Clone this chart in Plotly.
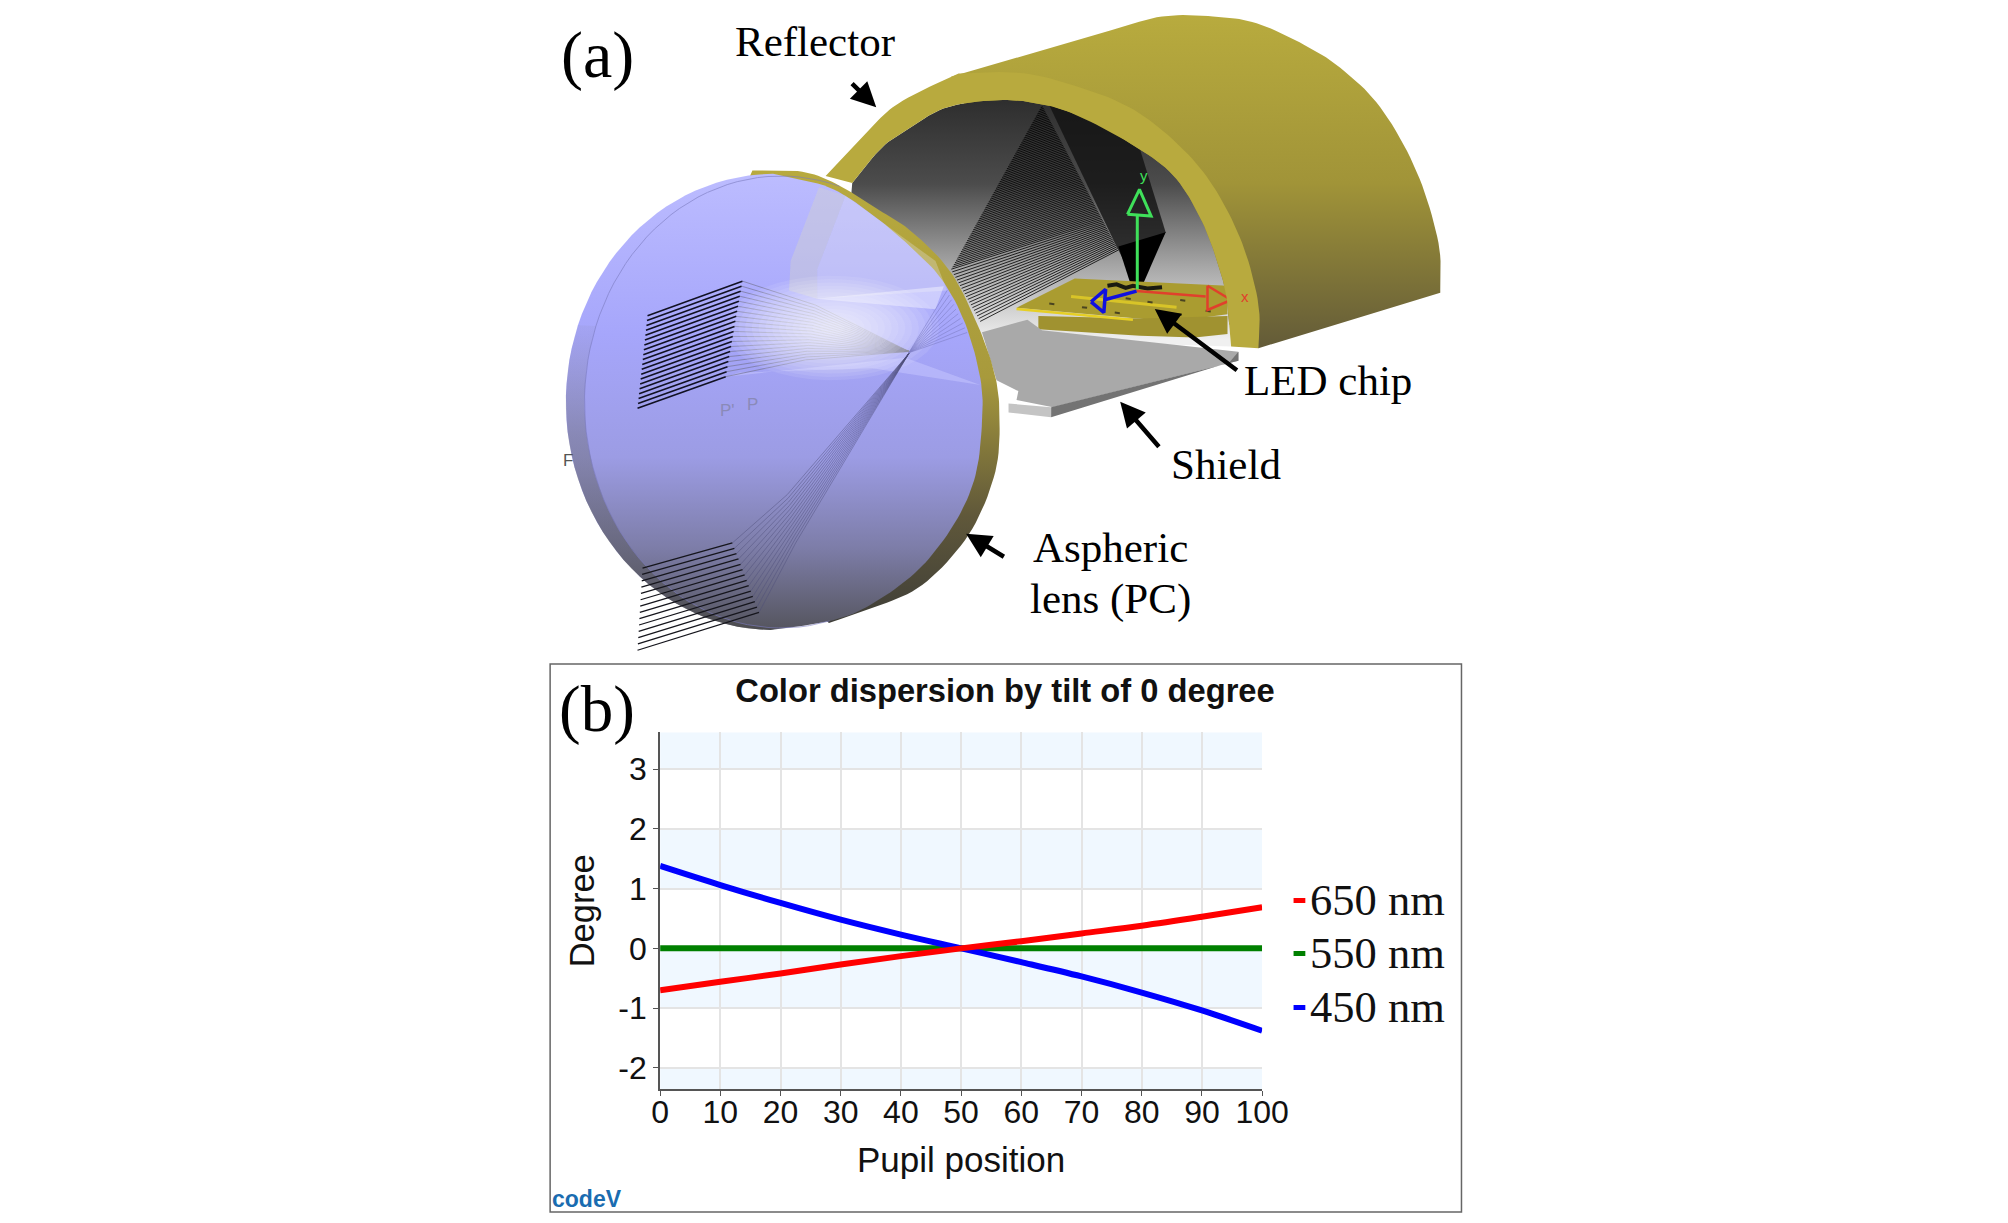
import numpy as np
import plotly.graph_objects as go

# chart (b) values
pupil = [0, 10, 20, 30, 40, 50, 60, 70, 80, 90, 100]
deg_650 = [-0.70, -0.56, -0.42, -0.27, -0.13, 0, 0.12, 0.25, 0.38, 0.53, 0.69]
deg_550 = [0, 0, 0, 0, 0, 0, 0, 0, 0, 0, 0]
deg_450 = [1.38, 1.06, 0.76, 0.48, 0.23, 0, -0.23, -0.47, -0.74, -1.04, -1.38]
series_names = ["650 nm", "550 nm", "450 nm"]
series_colors = ["#ff0000", "#008000", "#0000ff"]
x_ticks = [0, 10, 20, 30, 40, 50, 60, 70, 80, 90, 100]
y_ticks = [-2, -1, 0, 1, 2, 3]
y_labels = ["-2", "-1", "0", "1", "2", "3"]
y_min, y_max = -2.36, 3.62
bands = [(-2.36, -2), (-1, 0), (1, 2), (3, 3.62)]

W, H = 2008, 1223
SERIF = "Liberation Serif"
SANS = "Liberation Sans"


def z5(pts):
    return [(540 + x / 2.95, y / 2.376) for x, y in pts]


def z6(pts):
    return [(900 + x / 2.70, y / 2.8) for x, y in pts]


fig = go.Figure()


def poly(pts, color=None, grad=None, opacity=1.0):
    xs = [p[0] for p in pts] + [pts[0][0]]
    ys = [p[1] for p in pts] + [pts[0][1]]
    kw = {}
    if grad:
        start, stop, scale = grad
        kw["fillgradient"] = dict(type="vertical", colorscale=scale, start=start, stop=stop)
    else:
        kw["fillcolor"] = color
    fig.add_trace(go.Scatter(x=xs, y=ys, xaxis="x2", yaxis="y2", mode="lines", fill="toself",
                             line=dict(width=0), opacity=opacity, hoverinfo="skip",
                             showlegend=False, **kw))


def line(pts, color="#000000", width=1.0, opacity=1.0, shape="linear"):
    fig.add_trace(go.Scatter(x=[p[0] for p in pts], y=[p[1] for p in pts], xaxis="x2", yaxis="y2",
                             mode="lines", line=dict(color=color, width=width, shape=shape),
                             opacity=opacity, hoverinfo="skip", showlegend=False))


def lerp(a, b, t):
    return (a[0] + (b[0] - a[0]) * t, a[1] + (b[1] - a[1]) * t)


def ellipse(cx, cy, a, b, n=120):
    t = np.linspace(0, 2 * np.pi, n)
    return list(zip(cx + a * np.cos(t), cy + b * np.sin(t)))


def smooth(pts, n=10):
    # catmull-rom through the outline points, so the arcs do not look cut
    p = [pts[0]] + list(pts) + [pts[-1]]
    out = []
    for i in range(1, len(p) - 2):
        for t in np.linspace(0, 1, n, endpoint=False):
            xy = []
            for k in range(2):
                a, b, c, d = p[i - 1][k], p[i][k], p[i + 1][k], p[i + 2][k]
                xy.append(0.5 * (2 * b + (c - a) * t + (2 * a - 5 * b + 4 * c - d) * t ** 2
                                 + (3 * b - a - 3 * c + d) * t ** 3))
            out.append(tuple(xy))
    out.append(pts[-1])
    return out


# chart traces
fig.add_trace(go.Scatter(x=pupil, y=deg_550, mode="lines", name=series_names[1], cliponaxis=False,
                         line=dict(color=series_colors[1], width=6), showlegend=False))
fig.add_trace(go.Scatter(x=pupil, y=deg_450, mode="lines", name=series_names[2], cliponaxis=False,
                         line=dict(color=series_colors[2], width=6, shape="spline"), showlegend=False))
fig.add_trace(go.Scatter(x=pupil, y=deg_650, mode="lines", name=series_names[0], cliponaxis=False,
                         line=dict(color=series_colors[0], width=6, shape="spline"), showlegend=False))

# reflector body
body_arc = z6([(1505, 820), (1500, 680), (1440, 480), (1340, 300), (1230, 190), (1130, 125),
               (1000, 65), (880, 46), (740, 46), (600, 85)])
body = z6([(1005, 975)]) + smooth(body_arc) + z6([(160, 215), (200, 300)])
poly(body, grad=(15, 350, [[0, "#b8ab3e"], [0.5, "#a19438"], [1, "#625a38"]]))

# reflector inside
inner_arc = smooth(z6([(930, 970), (920, 850), (900, 760), (850, 620), (770, 490), (650, 400), (500, 320),
                       (400, 290), (290, 280), (150, 300)]) + z5([(1120, 300), (1030, 350), (940, 435)]))
inside = inner_arc + z5([(900, 800)]) + z6([(300, 950)])
poly(inside, grad=(100, 340, [[0, "#2e2e2e"], [0.35, "#4c4c4c"], [0.7, "#a8a8a8"], [1, "#f0f0f0"]]))

# ray fan on the reflector, left
A, B, C, D = (410, 295), (160, 755), (240, 900), (620, 700)
for i in range(95):
    t = i / 94
    p = lerp(A, B, t / 0.8) if t < 0.8 else lerp(B, C, (t - 0.8) / 0.2)
    q = lerp(A, D, t)
    line(z6([p, q]), width=1, opacity=0.8)

# ray fan on the reflector, right
poly(z6([(430, 295), (560, 340), (680, 420), (750, 650), (670, 800), (610, 680)]), color="#111111", opacity=0.78)
poly(z6([(620, 690), (750, 650), (690, 790), (655, 800)]), color="#000000")

# chip
poly(z6([(240, 900), (500, 780), (330, 860)]), color="#6e6420")
poly(z6([(340, 862), (500, 780), (920, 800), (920, 880), (770, 900), (650, 890)]), color="#aa9c30")
poly(z6([(400, 885), (680, 892), (920, 885), (920, 935), (830, 945), (680, 940), (400, 922)]), color="#a09230")
line(z6([(340, 865), (660, 895)]), color="#e6cf24", width=2.5)
line(z6([(490, 830), (780, 860)]), color="#d8c428", width=3)
line(z6([(590, 800), (615, 796), (640, 806), (660, 800), (700, 808), (740, 804)]), color="#1a1a10", width=4)
for sx, sy in [(430, 850), (520, 860), (610, 875), (700, 845), (790, 840), (860, 870), (780, 880), (640, 835)]:
    line(z6([(sx, sy), (sx + 14, sy + 2)]), color="#4a4420", width=2)

# shield
poly(z6([(245, 930), (370, 895), (410, 925), (950, 985), (950, 1010), (440, 1140), (340, 1120), (345, 1095),
         (285, 1065)]), color="#a9a9a9")
poly(z6([(435, 1140), (950, 1010), (950, 985), (925, 1015), (435, 1168)]), color="#737373")
poly(z6([(318, 1130), (435, 1140), (435, 1168), (318, 1155)]), color="#c4c4c4")

# axes marker on the chip
line(z6([(672, 810), (672, 600)]), color="#3fe05a", width=3)
line(z6([(645, 600), (710, 605), (678, 530), (645, 600)]), color="#3fe05a", width=3)
line(z6([(670, 815), (860, 830)]), color="#e0402c", width=2.5)
line(z6([(865, 800), (930, 840), (865, 868), (865, 800)]), color="#e0402c", width=2.5)
line(z6([(670, 815), (580, 840)]), color="#1010e0", width=3.5)
line(z6([(545, 845), (585, 810), (580, 875), (545, 845)]), color="#1010e0", width=3.5)

# front ring of the reflector
ring_outer = smooth(z5([(860, 418), (1000, 300), (1080, 245), (1230, 185)]) + z6(
    [(200, 205), (360, 205), (500, 240), (650, 300), (780, 400), (880, 520), (960, 680), (1005, 850),
     (1005, 975)]))
poly(ring_outer + inner_arc, color="#b8aa3e")

# lens rim and face, the right side is measured, the left side is a plain ellipse
rim = smooth(z5([(640, 405), (790, 408), (900, 440), (1000, 490), (1110, 545), (1230, 640), (1310, 760),
                 (1365, 880), (1382, 980), (1370, 1120), (1290, 1270), (1150, 1390), (1000, 1445), (870, 1480)]))
poly(rim + [(700, 500), (700, 300)], grad=(170, 630, [[0, "#b8aa3e"], [0.45, "#a89a3c"], [0.75, "#60583a"],
                                                      [1, "#3c3c38"]]))
lens_left = ellipse(778, 402, 211, 228)
face = smooth(z5([(702, 413), (870, 445), (1000, 510), (1120, 590), (1210, 665), (1280, 770), (1325, 900), (1330, 1000),
                  (1310, 1130), (1250, 1240), (1150, 1345), (1030, 1420), (900, 1470), (702, 1497)])) + lens_left[30:90]
poly(face, grad=(175, 630, [[0, "#bcbcff"], [0.35, "#a6a6fb"], [0.62, "#9c9ce4"],
                            [0.82, "#7d7da8"], [1, "#55555e"]]))
# darker crescent on the left side of the face
lens_inner = ellipse(786, 402, 200, 226)
poly(lens_left[30:67] + lens_inner[30:67][::-1], grad=(330, 630, [[0, "rgba(130,130,150,0.1)"],
                                                                  [0.35, "rgba(110,110,120,0.45)"],
                                                                  [1, "rgba(70,70,70,0.6)"]]))
line(lens_inner[25:96], color="#7c7cc0", width=1, opacity=0.6)

# glare on the lens
poly(z5([(840, 445), (920, 465), (835, 640), (835, 710), (750, 690), (755, 620)]), color="#d0d0d0", opacity=0.45)
poly(z5([(920, 465), (1190, 620), (1225, 690), (835, 710), (835, 640)]), color="#e8e8f0", opacity=0.3)
poly(z5([(830, 710), (1215, 680), (1190, 735)]), color="#ffffff", opacity=0.4)
poly(z5([(560, 895), (1100, 850), (1325, 915), (1000, 875), (600, 885)]), color="#c8c8ff", opacity=0.5)

# upper beam, the grey part goes under the glare
beam_left = [lerp((325, 750), (295, 970), i / 19) for i in range(20)]
beam_mid = [lerp((610, 668), (560, 895), i / 19) for i in range(20)]
for i in range(20):
    m = lerp((830, 725), (800, 855), i / 19)
    line(z5([beam_mid[i], m, (1110, 835)]), width=0.9, color="#70708a", opacity=0.7)
for r in range(95, 5, -6):
    poly(ellipse(838, 328, r * 1.15, r * 0.55, 40), color="#ffffff", opacity=0.09)
for a, b in zip(beam_left, beam_mid):
    line(z5([a, b]), width=1.6, color="#111122")

# lower beam
for i in range(14):
    t = i / 13
    a = lerp((310, 1350), (295, 1545), t)
    b = lerp((580, 1290), (660, 1455), t)
    c = lerp((745, 1175), (770, 1290), t)
    line(z5([a, b]), width=1.3, color="#15151c")
    line(z5([b, c, (1110, 840)]), width=0.8, color="#4c4c78", opacity=0.55)
for i in range(10):
    t = i / 9
    line(z5([(1110, 838), lerp((1225, 690), (1285, 790), t)]), width=1, color="#8080c8", opacity=0.6)

# arrows, labels
arrows = [(z5([(935, 195), (1012, 255)])), (z6([(950, 1040), (720, 865)])),
          (z6([(735, 1255), (625, 1125)])), (z5([(1400, 1325), (1282, 1268)]))]
for (x0, y0), (x1, y1) in arrows:
    fig.add_annotation(x=x1, y=y1, ax=x0, ay=y0, xref="x2", yref="y2", axref="x2", ayref="y2", text="",
                       showarrow=True, arrowhead=2, arrowsize=1.1, arrowwidth=4.5, arrowcolor="#000000")

labels = [("(a)", 599, 55, 66), ("Reflector", 821, 41, 43), ("LED chip", 1343, 380, 43),
          ("Shield", 1239, 464, 43), ("Aspheric", 1122, 547, 43), ("lens (PC)", 1122, 599, 43),
          ("(b)", 599, 709, 65)]
for txt, x, y, size in labels:
    fig.add_annotation(x=x, y=y, xref="x2", yref="y2", text=txt, showarrow=False,
                       font=dict(family=SERIF, size=size, color="#000000"))

small = [("P'", z5([(565, 975)])[0], "#8a8ab8", 17), ("P", z5([(640, 960)])[0], "#8a8ab8", 17),
         ("F", z5([(85, 1095)])[0], "#555555", 17), ("y", z6([(690, 490)])[0], "#3fe05a", 15),
         ("x", z6([(967, 830)])[0], "#e0402c", 15)]
for txt, (x, y), col, size in small:
    fig.add_annotation(x=x, y=y, xref="x2", yref="y2", text=txt, showarrow=False,
                       font=dict(family=SANS, size=size, color=col))

# handmade legend, the swatches are short dashes next to the text
legend_y = [899.5, 952.5, 1006.5]
for name, col, y in zip(series_names, series_colors, legend_y):
    fig.add_shape(type="line", xref="x2", yref="y2", x0=1308, x1=1320, y0=y + 1, y1=y + 1,
                  line=dict(color=col, width=5))
    fig.add_annotation(x=1323, y=y, xref="x2", yref="y2", text=name, showarrow=False, xanchor="left",
                       font=dict(family=SERIF, size=44.5, color="#111111"))

fig.add_annotation(x=589, y=1199, xref="x2", yref="y2", text="<b>codeV</b>", showarrow=False,
                   font=dict(family=SANS, size=23, color="#1a6cb0"))

# frame of panel b
fig.add_shape(type="rect", xref="x2", yref="y2", x0=551, x1=1479, y0=664, y1=1212,
              line=dict(color="#666666", width=1.5))

# light blue bands behind the plot
for lo, hi in bands:
    fig.add_shape(type="rect", xref="x", yref="y", x0=0, x1=100, y0=lo, y1=hi, layer="below",
                  fillcolor="#f0f8ff", line=dict(width=0))

fig.update_layout(
    width=W, height=H, margin=dict(l=0, r=0, t=0, b=0), paper_bgcolor="#ffffff",
    plot_bgcolor="rgba(0,0,0,0)", showlegend=False,
    font=dict(family=SANS, color="#111111"),
    title=dict(text="<b>Color dispersion by tilt of 0 degree</b>", x=1005 / W, xanchor="center",
               y=1 - 691 / H, yanchor="middle", font=dict(family=SANS, size=32.7, color="#111111")),
    xaxis=dict(domain=[663 / W, 1276 / W], range=[0, 100], tickvals=x_ticks, ticks="outside", ticklen=5,
               tickcolor="#555555", showline=True, linecolor="#555555", linewidth=2, gridcolor="#e4e4e4",
               gridwidth=1.5, zeroline=False, tickfont=dict(size=32, family=SANS), ticklabelstandoff=-12,
               title=dict(text="Pupil position", font=dict(size=35, family=SANS), standoff=19)),
    yaxis=dict(domain=[1 - 1089.3 / H, 1 - 732.2 / H], range=[y_min, y_max], tickvals=y_ticks, ticktext=y_labels,
               ticks="outside", ticklen=5, tickcolor="#555555", showline=True, linecolor="#555555", linewidth=2,
               gridcolor="#e4e4e4", gridwidth=1.5, zeroline=False, tickfont=dict(size=32, family=SANS),
               title=dict(text="Degree", font=dict(size=34.5, family=SANS), standoff=13)),
    xaxis2=dict(domain=[0, 1], range=[0, W], visible=False, anchor="y2"),
    yaxis2=dict(domain=[0, 1], range=[H, 0], visible=False, anchor="x2"),
)

fig.write_html("out.html", config={"displayModeBar": False},
               post_script="document.body.style.margin='0';document.body.style.overflow='hidden';")
